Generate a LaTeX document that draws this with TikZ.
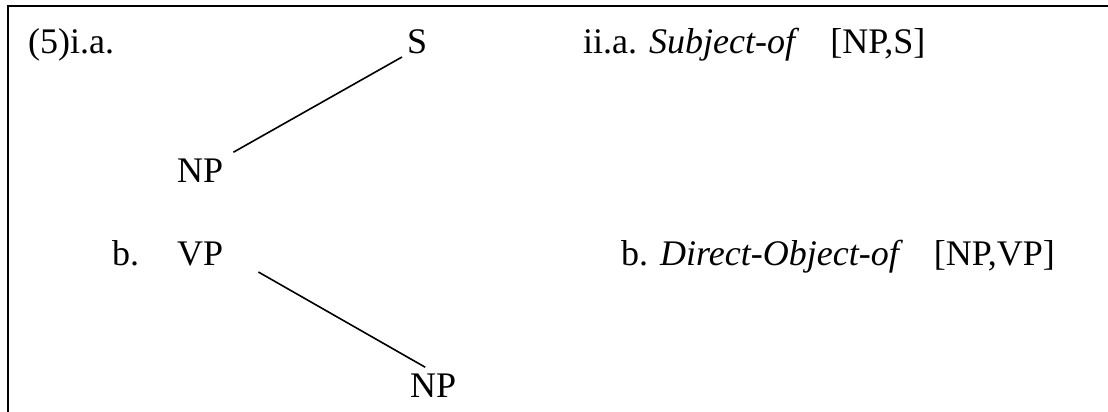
\documentclass[tikz,border=0pt]{standalone}
\usepackage{fontspec}
\setmainfont{Liberation Serif}
\usepackage{tikz}
\usetikzlibrary{calc}
\tikzset{>=latex,
  word/.style={anchor=base west,inner sep=0pt,font=\fontsize{36}{43}\selectfont},
  branch/.style={line width=1.6pt}}

\begin{document}
\begin{tikzpicture}[x=1pt,y=-1pt]
        \useasboundingbox (0,0) rectangle (1108,412);
        \draw[line width=2pt] (7.5,412) coordinate (bl) -- (7.5,6) coordinate (tl) -- (1108,6) coordinate (tr);
        \node[word] (ia) at (28,53) {(5)i.a.};
        \node[word] (s) at (407,53) {S};
        \node[word] (npa) at (177,182) {NP};
        \node[word] (iia) at (583,53) {ii.a. \textit{Subject-of}\hspace{22pt} [NP,S]};
        \node[word] (ib) at (112,265) {b.};
        \node[word] (vp) at (177,265) {VP};
        \node[word] (npb) at (410,397) {NP};
        \node[word] (iib) at (621,265) {b. \textit{Direct-Object-of}\hspace{22pt} [NP,VP]};
        \draw[branch] ([shift={(-5,4)}]s.base west) -- ([shift={(10,-6)}]npa.north east);
        \draw[branch] ([shift={(35,7)}]vp.base east) -- ([shift={(-8,-6)}]npb.north);
      \end{tikzpicture}
\end{document}
